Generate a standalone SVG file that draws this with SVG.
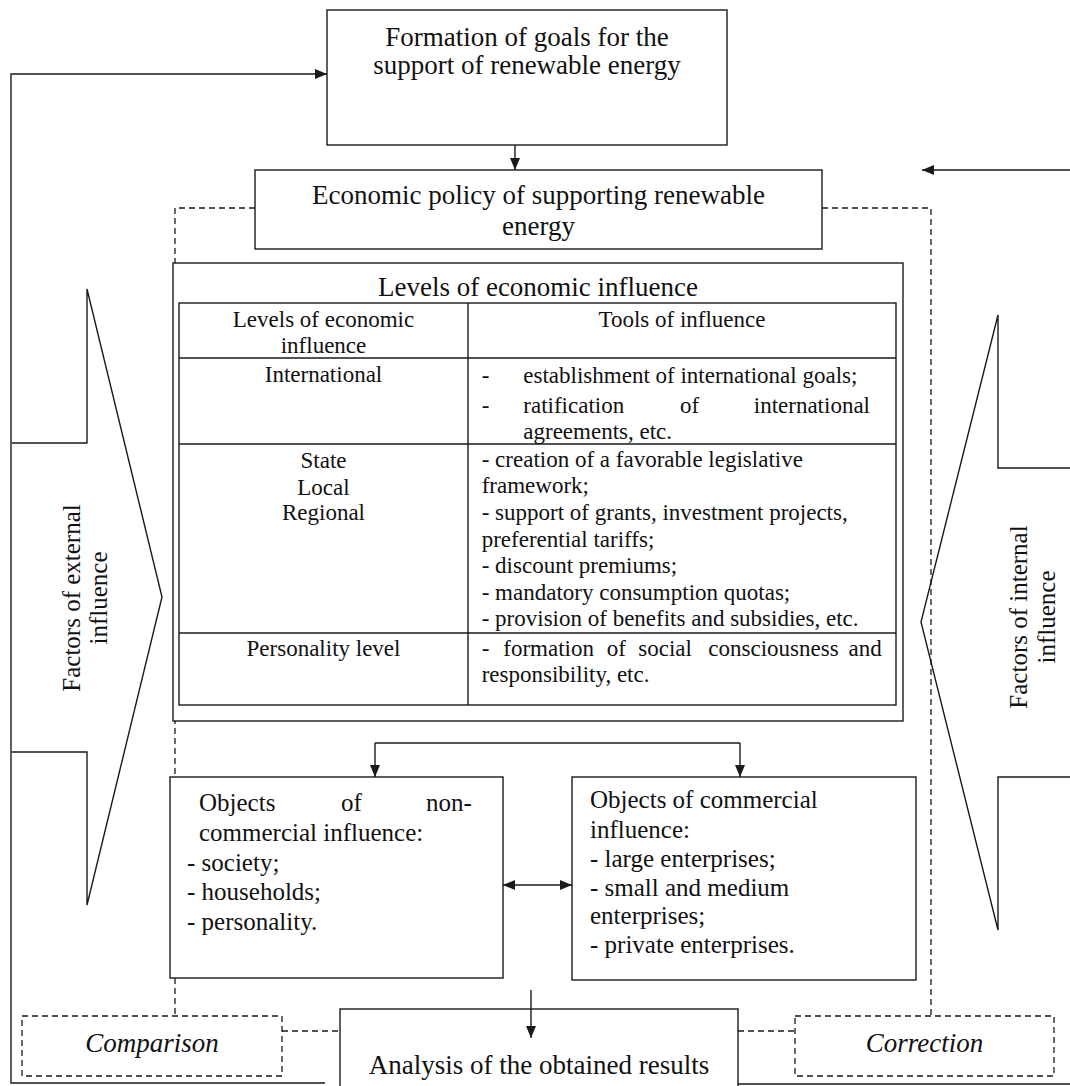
<svg xmlns="http://www.w3.org/2000/svg" width="1070" height="1086" viewBox="0 0 1070 1086" font-family="Liberation Serif, Times New Roman, serif">
<defs>
<marker id="ah" viewBox="0 0 12 10" refX="12" refY="5" markerWidth="12" markerHeight="10" orient="auto-start-reverse" markerUnits="userSpaceOnUse">
<path d="M0,0 L12,5 L0,10 z" fill="#1a1a1a"/>
</marker>
<style>
.ln{fill:none;stroke:#1a1a1a;stroke-width:1.4}
.bx{fill:#fff;stroke:#1a1a1a;stroke-width:1.4}
.dash{fill:none;stroke:#1a1a1a;stroke-width:1.3;stroke-dasharray:6,4}
.dbx{fill:#fff;stroke:#1a1a1a;stroke-width:1.3;stroke-dasharray:6,4}
.arw{fill:none;stroke:#1a1a1a;stroke-width:1.4;marker-end:url(#ah)}
text{font-family:'Liberation Serif','Times New Roman',serif;fill:#111}
.big{font-size:27px}
.mid{font-size:25px}
.tb{font-size:23px}
.it{font-size:27px;font-style:italic}
.c{text-anchor:middle}
.e{text-anchor:end}
</style>
</defs>
<rect width="1070" height="1086" fill="#fff"/>

<g id="frame-dashed">
<path class="dash" d="M255,208 H175 V1016"/>
<path class="dash" d="M822,208 H931 V1016"/>
<path class="dash" d="M282,1031 H340"/>
<path class="dash" d="M738,1031 H795"/>
</g>

<g id="connectors">
<path class="arw" d="M325,1083 H11 V74 H327"/>
<path class="arw" d="M738,1084 H1075 V170 H922"/>
<path class="arw" d="M515,145 V170"/>
<path class="ln" d="M375,743 H740"/>
<path class="arw" d="M375,743 V777"/>
<path class="arw" d="M740,743 V777"/>
<path class="ln" d="M503,885 H572" marker-start="url(#ah)" marker-end="url(#ah)"/>
<path class="arw" d="M531,990 V1038"/>
</g>

<g id="external-factors">
<path class="ln" d="M12,443 H87 V289 L162,597 L87,905 V752 H12"/>
<text class="mid c" transform="translate(80,598) rotate(-90)">Factors of external<tspan x="0" y="27">influence</tspan></text>
</g>

<g id="internal-factors">
<path class="ln" d="M1072,468 H998 V315 L921,622 L998,930 V777 H1072"/>
<text class="mid c" transform="translate(1027,617) rotate(-90)">Factors of internal<tspan x="0" y="28">influence</tspan></text>
</g>

<g id="goals">
<rect class="bx" x="327" y="10" width="400" height="135"/>
<text class="big c" x="527" y="46">Formation of goals for the</text>
<text class="big c" x="527" y="74">support of renewable energy</text>
</g>

<g id="policy">
<rect class="bx" x="255" y="170" width="567" height="79"/>
<text class="big c" x="538.5" y="204">Economic policy of supporting renewable</text>
<text class="big c" x="538.5" y="235">energy</text>
</g>

<g id="levels">
<rect class="bx" x="173" y="263" width="730" height="458"/>
<text class="big c" x="538" y="296">Levels of economic influence</text>
<rect class="ln" x="179" y="303" width="717" height="402"/>
<path class="ln" d="M179,358 H896 M179,444 H896 M179,633 H896 M468,303 V705"/>
<text class="tb c" x="323.5" y="327">Levels of economic</text>
<text class="tb c" x="323.5" y="353">influence</text>
<text class="tb c" x="682" y="327">Tools of influence</text>
<text class="tb c" x="323.5" y="382">International</text>
<text class="tb" x="481.7" y="383">-</text>
<text class="tb" x="523.3" y="383">establishment of international goals;</text>
<text class="tb" x="481.7" y="413">-</text>
<text class="tb" x="523.3" y="413">ratification</text>
<text class="tb" x="680" y="413">of</text>
<text class="tb e" x="870" y="413">international</text>
<text class="tb" x="523.3" y="439">agreements, etc.</text>
<text class="tb c" x="323.5" y="468">State</text>
<text class="tb c" x="323.5" y="495">Local</text>
<text class="tb c" x="323.5" y="520">Regional</text>
<text class="tb" x="481.7" y="467">- creation of a favorable legislative</text>
<text class="tb" x="481.7" y="493">framework;</text>
<text class="tb" x="481.7" y="520">- support of grants, investment projects,</text>
<text class="tb" x="481.7" y="547">preferential tariffs;</text>
<text class="tb" x="481.7" y="573">- discount premiums;</text>
<text class="tb" x="481.7" y="600">- mandatory consumption quotas;</text>
<text class="tb" x="481.7" y="626">- provision of benefits and subsidies, etc.</text>
<text class="tb c" x="323.5" y="656">Personality level</text>
<text class="tb" x="481.7" y="656">-</text>
<text class="tb" x="503.3" y="656">formation</text>
<text class="tb" x="606.7" y="656">of</text>
<text class="tb" x="638.3" y="656">social</text>
<text class="tb" x="708.3" y="656">consciousness</text>
<text class="tb e" x="881.7" y="656">and</text>
<text class="tb" x="481.7" y="682">responsibility, etc.</text>
</g>

<g id="non-commercial">
<rect class="bx" x="170" y="777" width="333" height="201"/>
<text class="mid" x="199" y="811">Objects</text>
<text class="mid" x="341" y="811">of</text>
<text class="mid" x="426" y="811">non-</text>
<text class="mid" x="199" y="841">commercial influence:</text>
<text class="mid" x="187" y="871">- society;</text>
<text class="mid" x="187" y="900">- households;</text>
<text class="mid" x="187" y="930">- personality.</text>
</g>

<g id="commercial">
<rect class="bx" x="572" y="777" width="344" height="203"/>
<text class="mid" x="590" y="808">Objects of commercial</text>
<text class="mid" x="590" y="838">influence:</text>
<text class="mid" x="590" y="867">- large enterprises;</text>
<text class="mid" x="590" y="896">- small and medium</text>
<text class="mid" x="590" y="924">enterprises;</text>
<text class="mid" x="590" y="953">- private enterprises.</text>
</g>

<g id="analysis">
<rect class="bx" x="340" y="1009" width="398" height="100"/>
<path class="arw" d="M531,1009 V1038"/>
<text class="big c" x="539" y="1074">Analysis of the obtained results</text>
</g>

<g id="comparison">
<rect class="dbx" x="22" y="1016" width="260" height="60"/>
<text class="it c" x="152" y="1052">Comparison</text>
</g>

<g id="correction">
<rect class="dbx" x="795" y="1016" width="259" height="60"/>
<text class="it c" x="924.5" y="1052">Correction</text>
</g>
</svg>
